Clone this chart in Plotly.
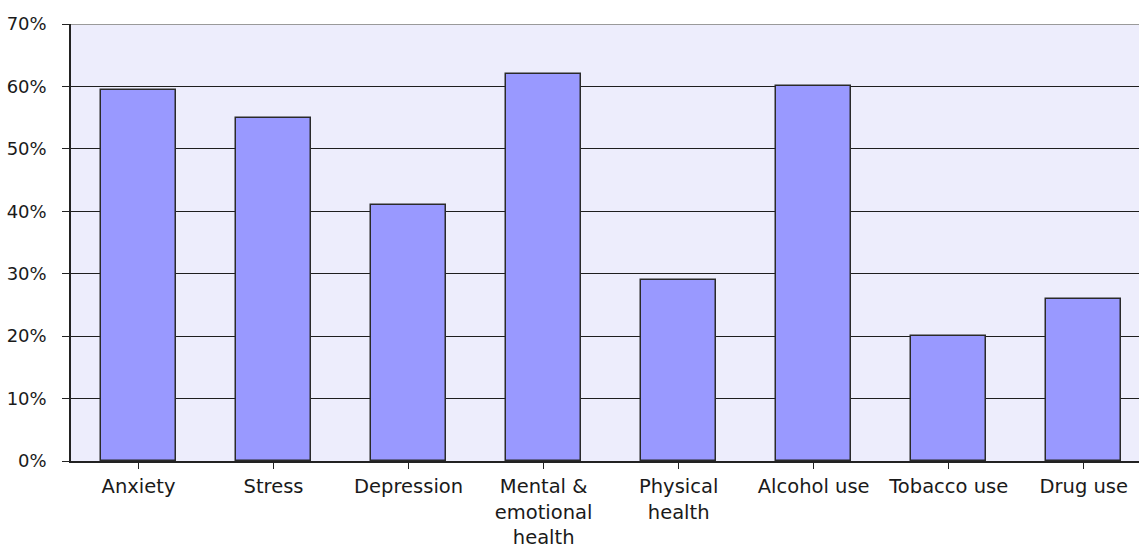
import plotly.graph_objects as go

# Share of respondents reporting each concern
categories = ["Anxiety", "Stress", "Depression", "Mental &<br>emotional<br>health",
              "Physical<br>health", "Alcohol use", "Tobacco use", "Drug use"]
values = [59.4, 55, 41, 62, 29, 60, 20, 26]
y_ticks = [0, 10, 20, 30, 40, 50, 60, 70]
y_tick_labels = [f"{v}%" for v in y_ticks]

font_family = "DejaVu Sans, Verdana, sans-serif"

fig = go.Figure(
    go.Bar(
        x=list(range(len(categories))),
        y=values,
        width=0.555,
        marker=dict(color="#9999FF", line=dict(color="#2a2a2a", width=1.5)),
        hoverinfo="skip",
    )
)

fig.update_layout(
    width=1139,
    height=550,
    margin=dict(l=71, r=0, t=24, b=89),
    paper_bgcolor="white",
    plot_bgcolor="#EDEDFC",
    showlegend=False,
    bargap=0,
    # top border of the plot area
    shapes=[dict(type="line", xref="paper", yref="y", x0=0, x1=1, y0=70, y1=70,
                 line=dict(color="#9a9a9a", width=2), layer="above")],
)

fig.update_xaxes(
    tickmode="array",
    tickvals=list(range(len(categories))),
    ticktext=categories,
    range=[-0.5, 7.409],
    tickson="boundaries",
    ticks="outside",
    ticklen=6,
    tickwidth=1,
    tickcolor="#222",
    showline=True,
    linecolor="#222",
    linewidth=1.5,
    showgrid=False,
    zeroline=False,
    tickfont=dict(family=font_family, size=19.5, color="#1a1a1a"),
    ticklabelstandoff=1,
    automargin=False,
    fixedrange=True,
)

fig.update_yaxes(
    range=[0, 70],
    tickmode="array",
    tickvals=y_ticks,
    ticktext=y_tick_labels,
    ticks="outside",
    ticklen=7,
    tickwidth=1,
    tickcolor="#222",
    showline=True,
    linecolor="#222",
    linewidth=1.5,
    showgrid=True,
    gridcolor="#1e1e1e",
    gridwidth=1.2,
    zeroline=False,
    tickfont=dict(family=font_family, size=18, color="#1a1a1a"),
    ticklabelstandoff=12,
    automargin=False,
    fixedrange=True,
)

fig.write_html("out.html")
